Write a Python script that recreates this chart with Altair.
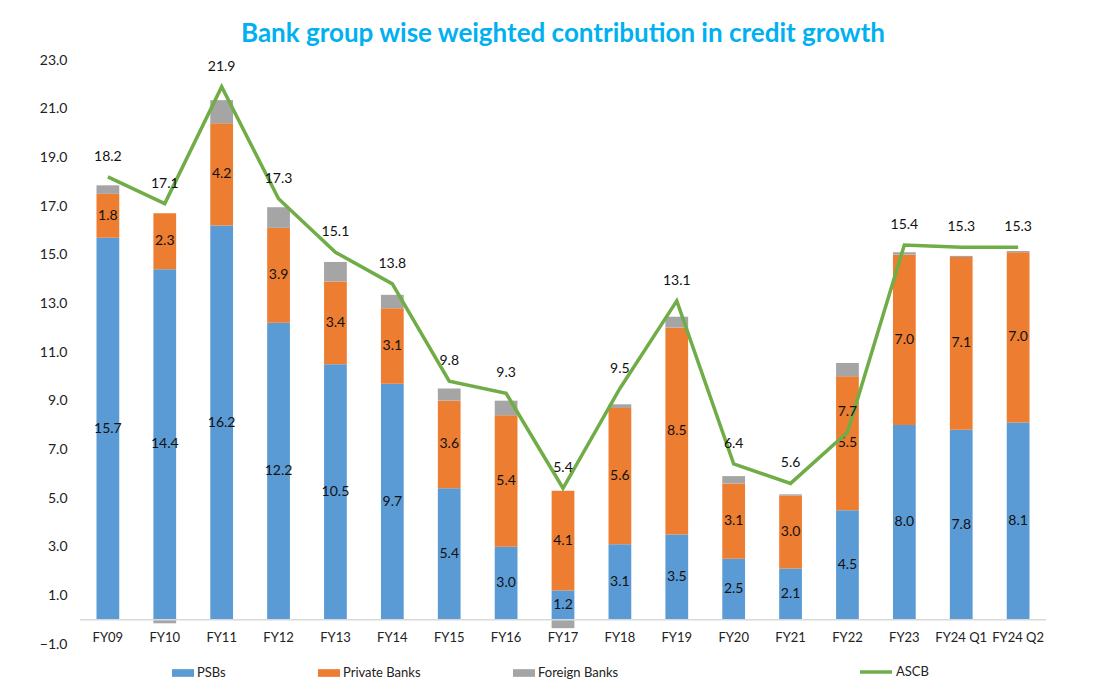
import altair as alt
import pandas as pd

categories = ['FY09', 'FY10', 'FY11', 'FY12', 'FY13', 'FY14', 'FY15', 'FY16', 'FY17',
              'FY18', 'FY19', 'FY20', 'FY21', 'FY22', 'FY23', 'FY24 Q1', 'FY24 Q2']
psbs = [15.7, 14.4, 16.2, 12.2, 10.5, 9.7, 5.4, 3.0, 1.2, 3.1, 3.5, 2.5, 2.1, 4.5, 8.0, 7.8, 8.1]
private_banks = [1.8, 2.3, 4.2, 3.9, 3.4, 3.1, 3.6, 5.4, 4.1, 5.6, 8.5, 3.1, 3.0, 5.5, 7.0, 7.1, 7.0]
foreign_banks = [0.35, -0.15, 0.95, 0.85, 0.8, 0.55, 0.5, 0.6, -0.35, 0.15, 0.45, 0.3, 0.05, 0.55, 0.1, 0.05, 0.05]
ascb = [18.2, 17.1, 21.9, 17.3, 15.1, 13.8, 9.8, 9.3, 5.4, 9.5, 13.1, 6.4, 5.6, 7.7, 15.4, 15.3, 15.3]

groups = ['PSBs', 'Private Banks', 'Foreign Banks']
group_colors = ['#5B9BD5', '#ED7D31', '#A5A5A5']
y_ticks = [-1, 1, 3, 5, 7, 9, 11, 13, 15, 17, 19, 21, 23]

rows = []
for i, c in enumerate(categories):
    for k, (g, vals) in enumerate(zip(groups, [psbs, private_banks, foreign_banks])):
        rows.append({'cat': c, 'group': g, 'value': vals[i], 'order': k})
bars_df = pd.DataFrame(rows)
line_df = pd.DataFrame({'cat': categories, 'value': ascb, 'series': ['ASCB'] * len(categories)})

FONT = 'Lato'
W, H = 966, 584

x_enc = alt.X('cat:N', sort=categories, title=None,
              scale=alt.Scale(paddingInner=0.6, paddingOuter=0.29),
              axis=alt.Axis(domain=False, ticks=False, grid=False, labelAngle=0, labelPadding=-13,
                            labelFontSize=13, labelColor='#222222', labelFont=FONT))
y_scale = alt.Scale(domain=[-1, 23], nice=False, zero=False)

bars = alt.Chart(bars_df).mark_bar().encode(
    x=x_enc,
    y=alt.Y('value:Q', scale=y_scale, title=None, stack='zero',
            axis=alt.Axis(values=y_ticks, format='.1f', grid=False, domain=False, ticks=False,
                          labelPadding=13, labelFontSize=14, labelColor='#222222', labelFont=FONT)),
    color=alt.Color('group:N', scale=alt.Scale(domain=groups, range=group_colors),
                    legend=alt.Legend(title=None, orient='none', direction='horizontal',
                                      legendX=92, legendY=602, columnPadding=92,
                                      symbolType='M-1,-0.35H1V0.35H-1Z', symbolSize=484,
                                      symbolStrokeWidth=0, labelFontSize=13, labelFont=FONT,
                                      labelColor='#222222', labelOffset=3)),
    order=alt.Order('order:Q', sort='ascending'),
)

baseline = alt.Chart(pd.DataFrame({'zero': [0]})).mark_rule(color='#D9D9D9', strokeWidth=1.5).encode(
    y=alt.Y('zero:Q', scale=y_scale),
    x=alt.value(0),
    x2=alt.value(W),
)

seg_labels = alt.Chart(bars_df).transform_stack(
    stack='value', groupby=['cat'], as_=['y0', 'y1'],
    sort=[alt.SortField('order', order='ascending')]
).transform_calculate(
    mid='(datum.y0 + datum.y1) / 2'
).transform_filter(
    alt.datum.group != 'Foreign Banks'
).mark_text(fontSize=14, font=FONT, color='#111111').encode(
    x=alt.X('cat:N', sort=categories),
    y=alt.Y('mid:Q', scale=y_scale),
    text=alt.Text('value:Q', format='.1f'),
)

line = alt.Chart(line_df).mark_line(strokeWidth=3.5).encode(
    x=alt.X('cat:N', sort=categories),
    y=alt.Y('value:Q', scale=y_scale),
    stroke=alt.Stroke('series:N', scale=alt.Scale(domain=['ASCB'], range=['#70AD47']),
                      legend=alt.Legend(title=None, orient='none', legendX=778, legendY=594,
                                        symbolType='stroke', symbolSize=1024,
                                        symbolStrokeWidth=3.5, labelFontSize=13,
                                        labelFont=FONT, labelColor='#222222', labelOffset=2)),
)

line_labels = alt.Chart(line_df).mark_text(fontSize=14, font=FONT, color='#111111', dy=-20).encode(
    x=alt.X('cat:N', sort=categories),
    y=alt.Y('value:Q', scale=y_scale),
    text=alt.Text('value:Q', format='.1f'),
)

chart = alt.layer(bars, baseline, seg_labels, line, line_labels).properties(
    width=W,
    height=H,
    background='white',
    title=alt.TitleParams('Bank group wise weighted contribution in credit growth',
                          fontSize=26, font=FONT, fontWeight='bold', color='#00B0F0',
                          anchor='middle', offset=6),
    autosize=alt.AutoSizeParams(type='none'),
    padding={'left': 72, 'top': 52, 'right': 50, 'bottom': 40},
).configure_view(stroke=None, strokeWidth=0).configure_axis(grid=False)

chart.save('out.html', embed_options={'renderer': 'svg', 'actions': False})
